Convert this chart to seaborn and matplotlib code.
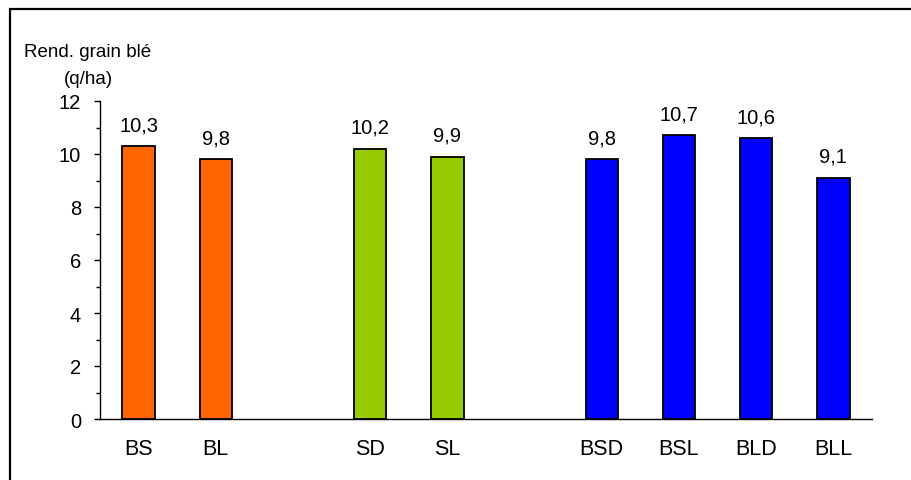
import matplotlib
matplotlib.use("Agg")
import matplotlib.pyplot as plt
from matplotlib.lines import Line2D
from matplotlib.ticker import MultipleLocator
import numpy as np
import pandas as pd
import seaborn as sns

# Grain yield per treatment (q/ha)
categories = ["BS", "BL", "SD", "SL", "BSD", "BSL", "BLD", "BLL"]
groupes = ["B", "B", "S", "S", "BS", "BS", "BS", "BS"]
rendement = [10.3, 9.8, 10.2, 9.9, 9.8, 10.7, 10.6, 9.1]
couleurs = {"B": "#FF6600", "S": "#99CC00", "BS": "#0000FF"}
y_ticks = [0, 2, 4, 6, 8, 10, 12]

# Slot index for each bar, leaving one empty slot between groups
positions = []
slot = 0
for i, g in enumerate(groupes):
    if i > 0 and g != groupes[i - 1]:
        slot += 1
    positions.append(slot)
    slot += 1

df = pd.DataFrame({"traitement": categories, "groupe": groupes,
                   "rendement": rendement, "pos": positions})

sns.set_theme(style="white")
plt.rcParams["font.family"] = ["Liberation Sans", "DejaVu Sans"]
plt.rcParams["text.color"] = "black"
plt.rcParams["xtick.color"] = "black"
plt.rcParams["ytick.color"] = "black"

W, H = 912, 481
fig = plt.figure(figsize=(W / 100, H / 100), dpi=100)
ax = fig.add_axes([100 / W, 1 - 420 / H, 772 / W, 318 / H])

sns.barplot(data=df, x="pos", y="rendement", hue="groupe", palette=couleurs,
            native_scale=True, width=0.42, dodge=False, legend=False,
            edgecolor="black", linewidth=1.3, saturation=1, ax=ax)

ax.set_xlim(-0.5, max(positions) + 0.5)
ax.set_ylim(0, 12)
ax.set_xticks(positions)
ax.set_xticklabels(categories, fontsize=15.5)
ax.set_yticks(y_ticks)
ax.set_yticklabels([str(v) for v in y_ticks], fontsize=14.5)
ax.yaxis.set_minor_locator(MultipleLocator(1))
ax.tick_params(axis="x", length=0, pad=14, labelcolor="black")
ax.tick_params(axis="y", which="major", length=4.5, width=1, color="black",
               direction="out", pad=9, left=True, labelcolor="black")
ax.tick_params(axis="y", which="minor", length=3, width=1, color="black",
               direction="out", left=True)
ax.set_xlabel("")
ax.set_ylabel("")
for side in ["top", "right"]:
    ax.spines[side].set_visible(False)
for side in ["left", "bottom"]:
    ax.spines[side].set_color("black")
    ax.spines[side].set_linewidth(1.0)

# Value labels with French decimal comma
for p, v in zip(positions, rendement):
    ax.annotate(f"{v:.1f}".replace(".", ","), xy=(p, v), xytext=(0, 11.5),
                textcoords="offset points", ha="center", va="baseline",
                fontsize=14.5, color="black")

# Axis title above the value axis
fig.text(88 / W, 1 - 53 / H, "Rend. grain blé", ha="center", va="center",
         fontsize=13.5, color="black")
fig.text(88 / W, 1 - 79 / H, "(q/ha)", ha="center", va="center",
         fontsize=13.5, color="black")

# Frame lines along the top and left of the chart area
fig.add_artist(Line2D([10 / W, 10 / W, 1], [0, 1 - 10 / H, 1 - 10 / H],
                      transform=fig.transFigure, color="black", linewidth=1.6,
                      solid_joinstyle="miter"))

fig.savefig("out.png", dpi=100, facecolor="white")
